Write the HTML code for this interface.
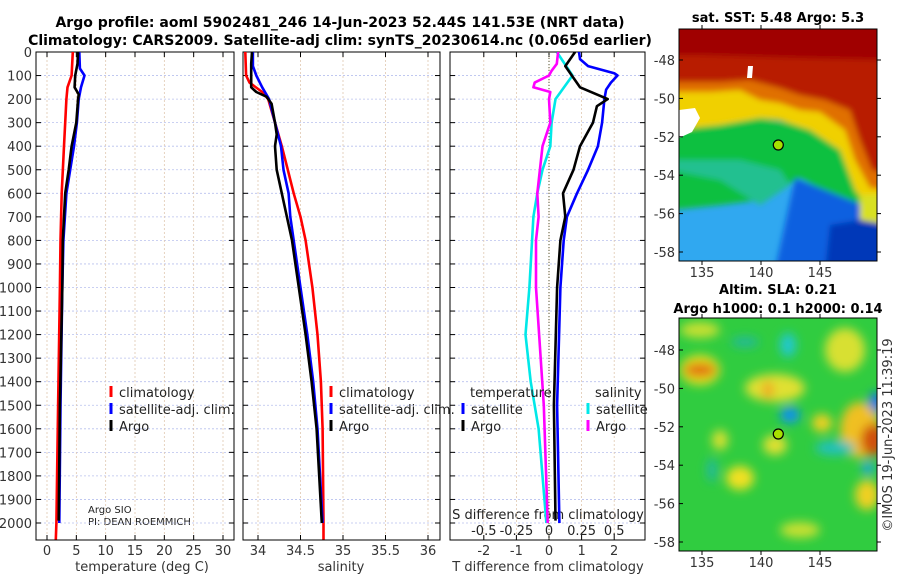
<!DOCTYPE html>
<html><head><meta charset="utf-8"><style>
body{margin:0;background:#fff}
svg text{font-family:"DejaVu Sans","Liberation Sans",sans-serif}
</style></head><body>
<svg id="fig" width="900" height="580" viewBox="0 0 900 580" xmlns="http://www.w3.org/2000/svg">
<defs>
<filter id="bl" x="-20%" y="-20%" width="140%" height="140%"><feGaussianBlur stdDeviation="3"/></filter>
<filter id="bl2" x="-50%" y="-50%" width="200%" height="200%"><feGaussianBlur stdDeviation="5"/></filter>
<clipPath id="c1"><rect x="679" y="29" width="198" height="232"/></clipPath>
<clipPath id="c2"><rect x="679" y="318" width="198" height="233"/></clipPath>
<clipPath id="p1"><rect x="36" y="52" width="198" height="488"/></clipPath>
<clipPath id="p2"><rect x="243" y="52" width="197" height="488"/></clipPath>
<clipPath id="p3"><rect x="450" y="52" width="195" height="488"/></clipPath>
</defs>
<text x="340" y="27" text-anchor="middle" font-size="14" font-weight="bold">Argo profile: aoml 5902481_246 14-Jun-2023 52.44S 141.53E (NRT data)</text>
<text x="340" y="45" text-anchor="middle" font-size="14" font-weight="bold">Climatology: CARS2009. Satellite-adj clim: synTS_20230614.nc (0.065d earlier)</text>

<!-- SST map -->
<g>
<text x="778" y="22" text-anchor="middle" font-size="13" font-weight="bold">sat. SST: 5.48 Argo: 5.3</text>
<g clip-path="url(#c1)">
<rect x="679" y="29" width="198" height="232" fill="#30a8f0"/>
<g filter="url(#bl)">
<polygon points="670,125 760,118 800,125 840,140 877,150 890,150 890,215 850,205 800,178 760,200 720,205 670,210" fill="#10c040"/>
<polygon points="670,170 720,180 760,205 790,185 780,170 740,160 670,160" fill="#20c090"/>
<polygon points="795,178 850,200 890,215 890,270 775,270" fill="#1060e0"/>
<polygon points="830,225 890,215 890,270 825,270" fill="#0038b8"/>
<polygon points="670,75 890,75 890,215 870,210 855,190 840,150 810,130 780,120 760,118 720,125 670,130" fill="#f0d000"/>
<polygon points="860,195 890,195 890,225 860,220" fill="#d8e020"/>
<polygon points="670,20 890,20 890,190 870,188 855,160 845,130 820,112 800,110 780,103 760,100 740,90 710,92 670,92" fill="#e07000"/>
<polygon points="670,20 890,20 890,175 872,170 860,140 850,110 825,100 800,95 780,88 750,80 720,82 670,82" fill="#b81a00"/>
<polygon points="670,20 890,20 890,60 800,58 700,55 670,55" fill="#a00000"/>
</g>
<polygon points="679,110 695,108 700,118 692,132 679,138" fill="#fff"/>
<polygon points="748,66 753,66 752,78 747,78" fill="#fff"/>
<circle cx="778.3" cy="145" r="5" fill="#a8e000" stroke="#000" stroke-width="1.2"/>
</g>
<rect x="679" y="29" width="198" height="232" fill="none" stroke="#000"/>
</g>

<!-- SLA map -->
<g>
<text x="778" y="294" text-anchor="middle" font-size="13" font-weight="bold">Altim. SLA: 0.21</text>
<text x="778" y="313" text-anchor="middle" font-size="13" font-weight="bold">Argo h1000: 0.1 h2000: 0.14</text>
<g clip-path="url(#c2)">
<rect x="679" y="318" width="198" height="233" fill="#30cc40"/>
<g filter="url(#bl2)">
<ellipse cx="700" cy="370" rx="20" ry="15" fill="#e8e020"/>
<ellipse cx="775" cy="388" rx="30" ry="14" fill="#e0e030"/>
<ellipse cx="845" cy="350" rx="20" ry="22" fill="#d8e030"/>
<ellipse cx="700" cy="330" rx="20" ry="8" fill="#c8e030"/>
<ellipse cx="775" cy="445" rx="12" ry="10" fill="#e0e030"/>
<ellipse cx="740" cy="478" rx="14" ry="12" fill="#f0e020"/>
<ellipse cx="860" cy="430" rx="20" ry="28" fill="#f0c020"/>
<ellipse cx="822" cy="423" rx="10" ry="9" fill="#f0d020"/>
<ellipse cx="867" cy="495" rx="12" ry="15" fill="#f0d020"/>
<ellipse cx="720" cy="440" rx="8" ry="10" fill="#d8e030"/>
<ellipse cx="800" cy="530" rx="20" ry="8" fill="#c8e030"/>
<ellipse cx="700" cy="370" rx="16" ry="7" fill="#e07010"/>
<ellipse cx="768" cy="390" rx="5" ry="9" fill="#f0a020"/>
<ellipse cx="873" cy="440" rx="12" ry="16" fill="#d05010"/>
<ellipse cx="788" cy="345" rx="8" ry="12" fill="#20c8d0"/>
<ellipse cx="790" cy="415" rx="10" ry="8" fill="#1090f0"/>
<ellipse cx="835" cy="448" rx="20" ry="7" fill="#20c0c0"/>
<ellipse cx="876" cy="402" rx="7" ry="10" fill="#1070f0"/>
<ellipse cx="868" cy="468" rx="6" ry="6" fill="#20a0f0"/>
<ellipse cx="745" cy="342" rx="14" ry="5" fill="#20b8a0"/>
<ellipse cx="712" cy="470" rx="5" ry="12" fill="#20b8a0"/>
</g>
<circle cx="778.3" cy="434" r="5" fill="#a8e000" stroke="#000" stroke-width="1.2"/>
</g>
<rect x="679" y="318" width="198" height="233" fill="none" stroke="#000"/>
</g>
<text transform="translate(892,435) rotate(-90)" text-anchor="middle" font-size="13" fill="#333">©IMOS 19-Jun-2023 11:39:19</text>

<text x="142" y="571" text-anchor="middle" font-size="13" fill="#333">temperature (deg C)</text>
<text x="341" y="571" text-anchor="middle" font-size="13" fill="#333">salinity</text>
<text x="548" y="571" text-anchor="middle" font-size="13" fill="#333">T difference from climatology</text>
<text x="548" y="519" text-anchor="middle" font-size="13" fill="#222">S difference from climatology</text>
<text x="88" y="513" font-size="10" fill="#222">Argo SIO</text>
<text x="88" y="525" font-size="10" fill="#222">PI: DEAN ROEMMICH</text>
</svg>
<script>
// ---- data ----
const depthTicks = [0,100,200,300,400,500,600,700,800,900,1000,1100,1200,1300,1400,1500,1600,1700,1800,1900,2000];
const tempTicks = [0,5,10,15,20,25,30];
const salTicks = [34,34.5,35,35.5,36];
const salTickLabels = ['34','34.5','35','35.5','36'];
const tdiffTicks = [-2,-1,0,1,2];
const sdiffTicks = [-0.5,-0.25,0,0.25,0.5];
const sdiffTickLabels = ['-0.5','-0.25','0','0.25','0.5'];
const latTicks = [-48,-50,-52,-54,-56,-58];
const lonTicks = [135,140,145];

const tClimDepth = [0,100,150,200,400,600,800,1000,1500,2000,2070];
const tClimVal   = [4.4,4.2,3.5,3.3,2.9,2.5,2.3,2.2,1.9,1.6,1.5];
const tSatDepth  = [0,70,100,150,200,300,400,600,800,1000,1500,2000];
const tSatVal    = [5.5,5.6,6.4,5.8,5.4,5.1,4.6,3.3,2.8,2.6,2.3,2.1];
const tArgoDepth = [0,50,100,150,180,200,300,400,500,600,800,1000,1500,1990];
const tArgoVal   = [5.3,5.2,4.8,4.7,5.4,5.3,5.0,4.2,3.7,3.1,2.7,2.6,2.2,2.0];

const sClimDepth = [0,100,130,170,200,300,400,500,600,700,800,1000,1200,1400,1600,2000,2070];
const sClimVal   = [33.85,33.86,33.9,34.05,34.12,34.2,34.28,34.35,34.42,34.5,34.56,34.64,34.7,34.74,34.76,34.77,34.77];
const sSatDepth  = [0,60,100,150,200,300,400,500,600,700,800,1000,1200,1400,1600,2000];
const sSatVal    = [33.94,33.94,33.98,34.05,34.13,34.2,34.27,34.3,34.36,34.38,34.42,34.5,34.58,34.65,34.7,34.76];
const sArgoDepth = [0,50,100,150,170,190,220,300,350,400,500,600,700,800,1000,1200,1400,1600,2000];
const sArgoVal   = [33.93,33.92,33.92,33.92,33.98,34.1,34.16,34.2,34.22,34.2,34.22,34.28,34.34,34.4,34.48,34.56,34.63,34.69,34.75];

const dtSatDepth  = [0,30,60,90,100,130,160,200,300,400,500,600,700,800,1000,1500,2000];
const dtSatVal    = [0.92,0.95,1.2,2.0,2.1,1.9,1.75,1.7,1.63,1.5,1.2,0.86,0.55,0.45,0.35,0.25,0.32];
const dtArgoDepth = [0,60,100,150,200,230,300,400,500,600,700,800,1000,1500,1990];
const dtArgoVal   = [0.8,0.5,0.7,0.95,1.8,1.47,1.35,0.95,0.75,0.43,0.5,0.35,0.25,0.15,0.2];
const dsSatDepth  = [0,100,200,300,400,500,600,700,1000,1200,1400,1600,2000];
const dsSatVal    = [0.06,0.18,0.05,0.02,0.01,-0.05,-0.09,-0.12,-0.15,-0.18,-0.14,-0.08,-0.02];
const dsArgoDepth = [0,50,80,100,130,150,170,200,300,400,500,600,700,800,1000,1500,2000];
const dsArgoVal   = [0.07,0.06,0.02,0.0,-0.11,-0.12,0.01,0.0,0.01,-0.05,-0.07,-0.09,-0.08,-0.1,-0.1,-0.04,-0.01];

// ---- drawing ----
const NS='http://www.w3.org/2000/svg';
const svg=document.getElementById('fig');
function mk(tag,attrs,parent){const e=document.createElementNS(NS,tag);for(const k in attrs)e.setAttribute(k,attrs[k]);(parent||svg).appendChild(e);return e;}
const yScale=d=>52+d*(471/2000);
function linScale(d0,d1,r0,r1){return v=>r0+(v-d0)*(r1-r0)/(d1-d0);}
const xT=linScale(0,30,47,223);
const xS=linScale(34,36,258,428);
const xDT=linScale(0,1,549,581.6);
const xDS=linScale(0,0.25,549,581.6);

function panel(name,x0,x1,xs,ticks,labels,showY){
  const g=mk('g',{});
  
  
  depthTicks.forEach(d=>{const y=yScale(d);
    mk('line',{x1:x0,x2:x1,y1:y,y2:y,stroke:'#b8c0ee','stroke-width':0.8,'stroke-dasharray':'2,2'},g);
    mk('line',{x1:x0,x2:x0+5,y1:y,y2:y,stroke:'#000'},g);
    mk('line',{x1:x1-5,x2:x1,y1:y,y2:y,stroke:'#000'},g);
    if(showY){const t=mk('text',{x:x0-4,y:y+5,'text-anchor':'end','font-size':13,fill:'#333'},g);t.textContent=d;
      
      }
  });
  ticks.forEach((v,i)=>{const x=xs(v);
    mk('line',{x1:x,x2:x,y1:52,y2:540,stroke:'#e0c8b0','stroke-width':0.8,'stroke-dasharray':'2,2'},g);
    mk('line',{x1:x,x2:x,y1:540,y2:535,stroke:'#000'},g);
    mk('line',{x1:x,x2:x,y1:52,y2:57,stroke:'#000'},g);
    const t=mk('text',{x:x,y:555,'text-anchor':'middle','font-size':13,fill:'#333'},g);t.textContent=labels[i];
    
    
  });
  mk('rect',{x:x0,y:52,width:x1-x0,height:488,fill:'none',stroke:'#000'},g);
  return g;
}
function series(name,clip,depths,vals,xs,color){
  const pts=depths.map((d,i)=>xs(vals[i]).toFixed(1)+','+yScale(d).toFixed(1)).join(' ');
  const p=mk('polyline',{points:pts,fill:'none',stroke:color,'stroke-width':2.6,'stroke-linejoin':'round','clip-path':'url(#'+clip+')'});
  
  
}
function legend(x,y,color,label,name){
  const g=mk('g',{});
  
  
  mk('line',{x1:x,x2:x,y1:y-11,y2:y,stroke:color,'stroke-width':3},g);
  const t=mk('text',{x:x+8,y:y,'font-size':13,fill:'#222'},g);t.textContent=label;
}
panel('temperature',36,234,xT,tempTicks,tempTicks.map(String),true);
panel('salinity',243,440,xS,salTicks,salTickLabels,false);
panel('difference',450,645,xDT,tdiffTicks,tdiffTicks.map(String),false);
sdiffTicks.forEach((v,i)=>{const t=mk('text',{x:xDS(v),y:535,'text-anchor':'middle','font-size':13,fill:'#222'});t.textContent=sdiffTickLabels[i];
  
  });
const z=mk('line',{x1:549,x2:549,y1:52,y2:540,stroke:'#555533','stroke-width':1,'stroke-dasharray':'1,2'});



series('temp-climatology-line','p1',tClimDepth,tClimVal,xT,'#ff0000');
series('temp-satellite-line','p1',tSatDepth,tSatVal,xT,'#0000ff');
series('temp-argo-line','p1',tArgoDepth,tArgoVal,xT,'#000000');
series('sal-climatology-line','p2',sClimDepth,sClimVal,xS,'#ff0000');
series('sal-satellite-line','p2',sSatDepth,sSatVal,xS,'#0000ff');
series('sal-argo-line','p2',sArgoDepth,sArgoVal,xS,'#000000');
series('sdiff-satellite-line','p3',dsSatDepth,dsSatVal,xDS,'#00e8e8');
series('sdiff-argo-line','p3',dsArgoDepth,dsArgoVal,xDS,'#ff00ff');
series('tdiff-satellite-line','p3',dtSatDepth,dtSatVal,xDT,'#0000ff');
series('tdiff-argo-line','p3',dtArgoDepth,dtArgoVal,xDT,'#000000');

legend(111,397,'#ff0000','climatology','legend-climatology');
legend(111,414,'#0000ff','satellite-adj. clim.','legend-satellite');
legend(111,431,'#000','Argo','legend-argo');
legend(331,397,'#ff0000','climatology','legend-sal-climatology');
legend(331,414,'#0000ff','satellite-adj. clim.','legend-sal-satellite');
legend(331,431,'#000','Argo','legend-sal-argo');
let t1=mk('text',{x:470,y:397,'font-size':13,fill:'#222'});t1.textContent='temperature';


let t2=mk('text',{x:595,y:397,'font-size':13,fill:'#222'});t2.textContent='salinity';


legend(463,414,'#0000ff','satellite','legend-tdiff-satellite');
legend(463,431,'#000','Argo','legend-tdiff-argo');
legend(588,414,'#00e8e8','satellite','legend-sdiff-satellite');
legend(588,431,'#ff00ff','Argo','legend-sdiff-argo');

// map axes
function mapAxes(name,top,h){
  const yl=linScale(-48,-58,top+ (h===232?31:32),top+(h===232?223:224));
  const xl=linScale(135,145,702,820);
  latTicks.forEach(v=>{const y=yl(v);
    mk('line',{x1:679,x2:683,y1:y,y2:y,stroke:'#000'});
    mk('line',{x1:877,x2:881,y1:y,y2:y,stroke:'#000'});
    const t=mk('text',{x:675,y:y+5,'text-anchor':'end','font-size':13,fill:'#333'});t.textContent=v;
    
    });
  lonTicks.forEach(v=>{const x=xl(v);
    mk('line',{x1:x,x2:x,y1:top+h,y2:top+h+4,stroke:'#000'});
    mk('line',{x1:x,x2:x,y1:top-4,y2:top,stroke:'#000'});
    const t=mk('text',{x:x,y:top+h+16,'text-anchor':'middle','font-size':13,fill:'#333'});t.textContent=v;
    
    });
}
mapAxes('sst-map',29,232);
mapAxes('sla-map',318,233);
</script>
</body></html>
